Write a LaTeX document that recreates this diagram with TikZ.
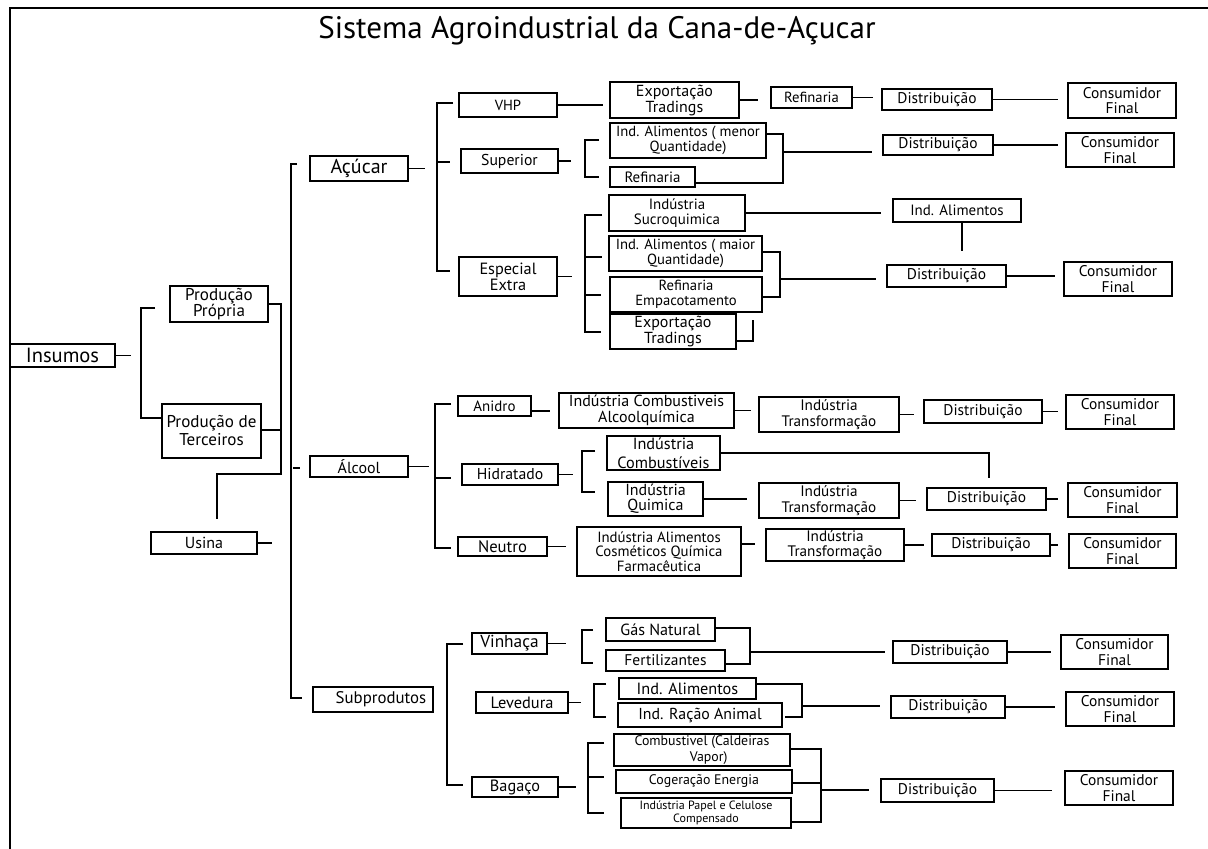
\documentclass[tikz,border=0pt]{standalone}
\usepackage{fontspec}
\setmainfont{PT Sans}
\newcommand\bx[7][]{\node[box,minimum width={(#5-#3)*0.75pt},minimum height={(#6-#4)*0.75pt},#1] (#2) at ({(#3+#5)/2},{(#4+#6)/2}) {#7};}
\tikzset{
  box/.style={draw,line width=0.9pt,inner sep=0pt,align=center,font=\fontsize{11}{11.5}\selectfont},
  fs/.style={font=\fontsize{#1}{11.5}\selectfont},
  ln/.style={line width=0.9pt}
}
\begin{document}
\begin{tikzpicture}[x=0.75pt,y=-0.75pt]
\useasboundingbox (0,0) rectangle (1208,849);
\fill[white] (0,0) rectangle (1208,849);
\draw[line width=1.5pt] (10,849) -- (10,8) -- (1208,8);
\node[anchor=base,font=\fontsize{23.3}{25}\selectfont] (title) at (597,39) {Sistema Agroindustrial da Cana-de-Açucar};

% left part
\bx[fs=15.4]{ins}{10}{344}{115}{367}{Insumos}
\bx[fs=12.8,font=\fontsize{12.8}{12.5}\selectfont]{prop}{170}{286}{268}{322}{Produção\\Própria}
\bx[font=\fontsize{12.8}{13.5}\selectfont]{ter}{162}{404}{261}{458}{Produção de\\Terceiros}
\bx[fs=12]{usi}{151}{532}{257}{554}{Usina}
\bx[fs=15]{acu}{310}{156}{408}{181}{Açúcar}
\bx[fs=12]{alc}{310}{456}{408}{477}{Álcool}
\bx[fs=12.6]{sub}{313}{687}{433}{712}{\hspace*{12pt}Subprodutos}

% Acucar
\bx[fs=11]{vhp}{459}{93}{557}{117}{VHP}
\bx[font=\fontsize{12}{12}\selectfont]{exp1}{610}{82}{739}{118}{Exportação\\Tradings}
\bx{ref1}{771}{87}{852}{108}{Refinaria}
\bx[fs=11.6]{dist1}{882}{89}{992}{110}{Distribuição}
\bx[fs=11.6]{cf1}{1068}{83}{1176}{118}{Consumidor\\Final}
\bx[fs=11.8]{sup}{461}{149}{558}{173}{Superior}
\bx[fs=11]{indmen}{610}{123}{766}{158}{Ind. Alimentos ( menor\\Quantidade)}
\bx[fs=11.2]{ref2}{610}{167}{695}{187}{Refinaria}
\bx[fs=11.6]{dist2}{883}{135}{993}{155}{Distribuição}
\bx[fs=11.6]{cf2}{1066}{133}{1174}{167}{Consumidor\\Final}
\bx[font=\fontsize{12.2}{12}\selectfont]{esp}{459}{257}{557}{296}{Especial\\Extra}
\bx[fs=11.2]{sucro}{609}{195}{745}{231}{Indústria\\Sucroquimica}
\bx[fs=11.2]{indal}{893}{199}{1021}{222}{Ind. Alimentos}
\bx[fs=11]{indmai}{609}{236}{762}{271}{Ind. Alimentos ( maior\\Quantidade)}
\bx[fs=11]{refemp}{610}{277}{762}{312}{Refinaria\\Empacotamento}
\bx[font=\fontsize{12}{12}\selectfont]{exp2}{610}{314}{736}{349}{Exportação\\Tradings}
\bx[fs=11.6]{dist3}{887}{265}{1006}{287}{Distribuição}
\bx[fs=11.6]{cf3}{1064}{262}{1172}{296}{Consumidor\\Final}

% Alcool
\bx[fs=11.2]{anid}{458}{396}{531}{416}{Anidro}
\bx[fs=12]{ica}{559}{393}{734}{428}{Indústria Combustiveis\\Alcoolquímica}
\bx[fs=11.4]{it1}{759}{397}{899}{432}{Indústria\\Transformação}
\bx[fs=11.6]{dist4}{924}{400}{1042}{423}{Distribuição}
\bx[fs=11.6]{cf4}{1066}{395}{1174}{429}{Consumidor\\Final}
\bx[fs=11.8]{hid}{462}{464}{558}{485}{Hidratado}
\bx[fs=12.2]{icomb}{607}{436}{720}{470}{Indústria\\[3pt]Combustíveis}
\bx[fs=12]{iqui}{608}{482}{703}{516}{Indústria\\Quimica}
\bx[fs=11.4]{it2}{759}{483}{899}{518}{Indústria\\Transformação}
\bx[fs=11.6]{dist5}{927}{488}{1046}{510}{Distribuição}
\bx[fs=11.6]{cf5}{1068}{483}{1177}{517}{Consumidor\\Final}
\bx[fs=12.5]{neu}{458}{537}{547}{556}{Neutro}
\bx[font=\fontsize{11.1}{11}\selectfont]{iac}{577}{527}{741}{576}{Indústria Alimentos\\Cosméticos Química\\Farmacêutica}
\bx[fs=11.4]{it3}{766}{529}{904}{561}{Indústria\\Transformação}
\bx[fs=11.6]{dist6}{932}{534}{1050}{556}{Distribuição}
\bx[fs=11.6]{cf6}{1069}{534}{1176}{568}{Consumidor\\Final}

% Subprodutos
\bx[fs=13]{vin}{472}{633}{547}{654}{Vinhaça}
\bx[fs=12.1]{gas}{606}{618}{715}{641}{Gás Natural}
\bx[fs=11.6]{fert}{606}{650}{725}{671}{Fertilizantes}
\bx[fs=11.6]{dist7}{893}{641}{1007}{663}{Distribuição}
\bx[fs=11.6]{cf7}{1061}{635}{1168}{669}{Consumidor\\Final}
\bx[fs=12.3]{lev}{476}{692}{568}{713}{Levedura}
\bx[fs=12.2]{indal2}{619}{678}{756}{699}{Ind. Alimentos}
\bx[fs=11.9]{racao}{618}{703}{782}{727}{Ind. Ração Animal}
\bx[fs=11.6]{dist8}{891}{696}{1005}{718}{Distribuição}
\bx[fs=11.6]{cf8}{1066}{692}{1174}{726}{Consumidor\\Final}
\bx[fs=12.2]{bag}{472}{777}{558}{797}{Bagaço}
\bx[fs=10.4]{comb}{614}{734}{790}{766}{Combustivel (Caldeiras\\\hspace*{10pt}Vapor)}
\bx[fs=10.4]{cog}{616}{770}{792}{793}{Cogeração Energia}
\bx[font=\fontsize{9}{10}\selectfont]{papel}{621}{798}{791}{828}{Indústria Papel e Celulose\\Compensado}
\bx[fs=11.6]{dist9}{881}{779}{994}{802}{Distribuição}
\bx[fs=11.6]{cf9}{1065}{771}{1173}{805}{Consumidor\\Final}

% connectors: left
\draw[ln] (ins.east) -- ++(15,0);
\draw[ln] (155,308) -- (141,308) -- (141,418) -- (ter.west |- 141,418);
\draw[ln] (prop.east) -- (281,304) -- (281,474) -- (217,474) -- (217,519);
\draw[ln] (ter.east |- 0,430) -- (281,430);
\draw[ln] (usi.east) -- ++(14,0);
\draw[ln] (297,164) -- (291,164) -- (291,698) -- (302,698);
\draw[ln] (293,468) -- (300,468);

% Acucar connectors
\draw[ln] (acu.east) -- ++(16,0);
\draw[ln] (453,103) -- (437,103) -- (437,271) -- (450,271);
\draw[ln] (437,162) -- (450,162);
\draw[ln] (vhp.east) -- ++(45,0);
\draw[ln] (exp1.east) -- ++(18,0);
\draw[ln] (ref1.east) -- ++(20,0);
\draw[ln] (dist1.east) -- ++(65,0);
\draw[ln] (sup.east) -- ++(12,0);
\draw[ln] (599,140) -- (585,140) -- (585,177) -- (599,177);
\draw[ln] (indmen.east |- 0,134) -- (783,134) -- (783,183) -- (ref2.east |- 0,183);
\draw[ln] (783,152) -- (872,152);
\draw[ln] (dist2.east) -- ++(64,0);
\draw[ln] (esp.east) -- ++(14,0);
\draw[ln] (602,215) -- (585,215) -- (585,332) -- (601,332);
\draw[ln] (585,257) -- (602,257);
\draw[ln] (585,295) -- (601,295);
\draw[ln] (sucro.east) -- ++(135,0);
\draw[ln] (indal.south -| 962,0) -- (962,251);
\draw[ln] (indmai.east |- 0,252) -- (780,252) -- (780,297) -- (refemp.east |- 0,297);
\draw[ln] (780,279) -- (876,279);
\draw[ln] (exp2.east |- 0,341) -- (753,341) -- (753,320);
\draw[ln] (dist3.east) -- ++(48,0);

% Alcool connectors
\draw[ln] (alc.east) -- ++(20,0);
\draw[ln] (451,404) -- (435,404) -- (435,548) -- (451,548);
\draw[ln] (435,478) -- (451,478);
\draw[ln] (anid.east |- 0,411) -- (550,411);
\draw[ln] (ica.east) -- ++(16,0);
\draw[ln] (it1.east) -- ++(14,0);
\draw[ln] (dist4.east) -- ++(15,0);
\draw[ln] (hid.east) -- ++(14,0);
\draw[ln] (595,451) -- (582,451) -- (582,492) -- (595,492);
\draw[ln] (icomb.east |- 0,453) -- (989,453) -- (989,478);
\draw[ln] (iqui.east) -- ++(43,0);
\draw[ln] (it2.east) -- ++(16,0);
\draw[ln] (dist5.east) -- ++(11,0);
\draw[ln] (neu.east) -- ++(18,0);
\draw[ln] (iac.east |- 0,544) -- ++(13,0);
\draw[ln] (it3.east) -- ++(19,0);
\draw[ln] (dist6.east) -- ++(7,0);

% Subprodutos connectors
\draw[ln] (463,644) -- (447,644) -- (447,785) -- (463,785);
\draw[ln] (vin.east) -- ++(18,0);
\draw[ln] (593,630) -- (582,630) -- (582,663) -- (593,663);
\draw[ln] (gas.east |- 0,628) -- (750,628) -- (750,664) -- (fert.east |- 0,664);
\draw[ln] (750,652) -- (885,652);
\draw[ln] (dist7.east) -- ++(43,0);
\draw[ln] (lev.east) -- ++(12,0);
\draw[ln] (606,684) -- (594,684) -- (594,717) -- (606,717);
\draw[ln] (indal2.east |- 0,684) -- (802,684) -- (802,717) -- (785,717);
\draw[ln] (802,706) -- (880,706);
\draw[ln] (dist8.east) -- ++(49,0);
\draw[ln] (bag.east) -- ++(17,0);
\draw[ln] (604,743) -- (588,743) -- (588,813) -- (604,813);
\draw[ln] (588,777) -- (604,777);
\draw[ln] (comb.east |- 0,749) -- (821,749) -- (821,822) -- (papel.east |- 0,822);
\draw[ln] (cog.east |- 0,783) -- (821,783);
\draw[ln] (821,790) -- (869,790);
\draw[ln] (dist9.east) -- ++(57,0);
\end{tikzpicture}
\end{document}
